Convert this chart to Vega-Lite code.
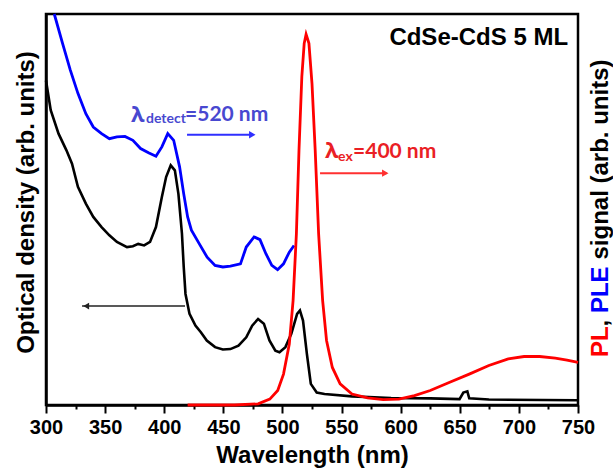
{
  "$schema": "https://vega.github.io/schema/vega-lite/v6.json",
  "width": 532,
  "height": 391,
  "autosize": {"type": "none"},
  "padding": {"left": 46, "top": 14, "right": 35, "bottom": 66},
  "background": "white",
  "config": {
    "view": {"stroke": "black", "strokeWidth": 2.5},
    "font": "Liberation Sans"
  },
  "datasets": {
    "abs": [
      {"nm": 300, "v": 83}, {"nm": 304, "v": 75.4}, {"nm": 310.6, "v": 69.4}, {"nm": 317.2, "v": 65.2},
      {"nm": 322, "v": 61.7}, {"nm": 327, "v": 55.8}, {"nm": 333.7, "v": 51.5}, {"nm": 340, "v": 48.1},
      {"nm": 347, "v": 45.5}, {"nm": 353.6, "v": 43.4}, {"nm": 360, "v": 41.7}, {"nm": 368.5, "v": 40.4},
      {"nm": 373.5, "v": 40.6}, {"nm": 378, "v": 41.2}, {"nm": 383, "v": 40.8}, {"nm": 388, "v": 41.7},
      {"nm": 393, "v": 45.5}, {"nm": 398, "v": 53.2}, {"nm": 401.6, "v": 58.3}, {"nm": 405.5, "v": 61.3},
      {"nm": 409, "v": 60}, {"nm": 412, "v": 54}, {"nm": 415, "v": 43.8}, {"nm": 416.5, "v": 35.3},
      {"nm": 418, "v": 28.4}, {"nm": 421.4, "v": 23.3}, {"nm": 426.4, "v": 20.3}, {"nm": 431, "v": 18.6},
      {"nm": 436, "v": 16.5}, {"nm": 443, "v": 14.8}, {"nm": 449.6, "v": 14.2}, {"nm": 456, "v": 14.3},
      {"nm": 462.8, "v": 15.2}, {"nm": 469.4, "v": 17.3}, {"nm": 474.4, "v": 20.3}, {"nm": 479.4, "v": 22},
      {"nm": 484.3, "v": 20.8}, {"nm": 489, "v": 16.5}, {"nm": 494, "v": 13.9}, {"nm": 497.5, "v": 13.5},
      {"nm": 502.5, "v": 14.8}, {"nm": 507.5, "v": 18.2}, {"nm": 512.4, "v": 23.3}, {"nm": 514.8, "v": 24.2},
      {"nm": 517.4, "v": 21.6}, {"nm": 520.7, "v": 13}, {"nm": 524, "v": 5.4}, {"nm": 529, "v": 3.2},
      {"nm": 535.6, "v": 2.8}, {"nm": 558.8, "v": 2.2}, {"nm": 591.9, "v": 1.8}, {"nm": 625, "v": 1.7},
      {"nm": 649.8, "v": 1.5}, {"nm": 653, "v": 3.2}, {"nm": 656.4, "v": 3.5}, {"nm": 658, "v": 1.7},
      {"nm": 674.6, "v": 1.4}, {"nm": 750, "v": 1.2}
    ],
    "ple": [
      {"nm": 307, "v": 100}, {"nm": 314, "v": 92.5}, {"nm": 320.5, "v": 85.7}, {"nm": 327, "v": 79.7},
      {"nm": 333.7, "v": 74.5}, {"nm": 340, "v": 71.1}, {"nm": 347, "v": 69.4}, {"nm": 353.6, "v": 68.1},
      {"nm": 360, "v": 68.6}, {"nm": 366.8, "v": 68.7}, {"nm": 373.5, "v": 67.7}, {"nm": 380, "v": 65.6},
      {"nm": 386.7, "v": 64.5}, {"nm": 393, "v": 63.6}, {"nm": 398, "v": 66}, {"nm": 403, "v": 69.4},
      {"nm": 408, "v": 67.7}, {"nm": 413, "v": 60.9}, {"nm": 416.5, "v": 54}, {"nm": 419.8, "v": 48.1},
      {"nm": 423, "v": 44.7}, {"nm": 429.7, "v": 41.2}, {"nm": 436.3, "v": 37.8}, {"nm": 443, "v": 35.7},
      {"nm": 449.6, "v": 35.3}, {"nm": 456, "v": 35.5}, {"nm": 464.5, "v": 36.1}, {"nm": 469.4, "v": 40.4},
      {"nm": 476, "v": 43}, {"nm": 481, "v": 42.3}, {"nm": 486, "v": 38.7}, {"nm": 491, "v": 35.7},
      {"nm": 495.9, "v": 34.6}, {"nm": 500.9, "v": 36.1}, {"nm": 505.8, "v": 39.1}, {"nm": 509.8, "v": 40.8}
    ],
    "pl": [
      {"nm": 419.8, "v": 0}, {"nm": 459.5, "v": 0}, {"nm": 479.4, "v": 0.3}, {"nm": 489.3, "v": 1.5},
      {"nm": 496, "v": 3.7}, {"nm": 500.9, "v": 7.9}, {"nm": 505.8, "v": 15.6}, {"nm": 509, "v": 26.7},
      {"nm": 511.8, "v": 43.8}, {"nm": 514, "v": 65.2}, {"nm": 516.4, "v": 84}, {"nm": 518.4, "v": 92.5},
      {"nm": 520, "v": 94.8}, {"nm": 522.4, "v": 92.5}, {"nm": 525, "v": 82.2}, {"nm": 527.7, "v": 65.2},
      {"nm": 530.6, "v": 43.8}, {"nm": 534, "v": 26.7}, {"nm": 537.3, "v": 16.5}, {"nm": 542.2, "v": 9.6},
      {"nm": 548.8, "v": 5.4}, {"nm": 558.8, "v": 2.8}, {"nm": 572, "v": 1.8}, {"nm": 585.2, "v": 1.4},
      {"nm": 598.5, "v": 1.5}, {"nm": 611.7, "v": 2.4}, {"nm": 625, "v": 3.7}, {"nm": 641.5, "v": 5.8},
      {"nm": 658, "v": 7.9}, {"nm": 674.6, "v": 10.1}, {"nm": 691, "v": 11.8}, {"nm": 704.4, "v": 12.4},
      {"nm": 717.6, "v": 12.4}, {"nm": 730.8, "v": 12}, {"nm": 740.7, "v": 11.5}, {"nm": 750, "v": 10.9}
    ]
  },
  "encoding": {
    "x": {
      "field": "nm", "type": "quantitative",
      "scale": {"domain": [300, 750], "nice": false, "zero": false},
      "axis": {
        "title": "Wavelength (nm)",
        "values": [300, 325, 350, 375, 400, 425, 450, 475, 500, 525, 550, 575, 600, 625, 650, 675, 700, 725, 750],
        "labelExpr": "datum.value % 50 === 0 ? datum.label : ''",
        "tickSize": {"condition": {"test": "datum.value % 50 === 0", "value": 8}, "value": 4},
        "tickWidth": 2, "tickColor": "black",
        "domainColor": "black", "domainWidth": 2.5,
        "grid": false,
        "labelFont": "Liberation Sans", "labelFontSize": 20, "labelFontWeight": "bold", "labelColor": "black",
        "labelPadding": 4, "labelFlush": false, "labelOverlap": false,
        "titleFont": "Liberation Sans", "titleFontSize": 24, "titleFontWeight": "bold", "titleColor": "black",
        "titlePadding": 6
      }
    },
    "y": {
      "field": "v", "type": "quantitative",
      "scale": {"domain": [0, 100], "nice": false, "zero": false},
      "axis": {
        "title": "Optical density (arb. units)",
        "ticks": false, "labels": false, "grid": false,
        "domainColor": "black", "domainWidth": 2.5,
        "titleFont": "Liberation Sans", "titleFontSize": 24, "titleFontWeight": "bold", "titleColor": "black",
        "titlePadding": 8, "titleY": 188
      }
    }
  },
  "layer": [
    {
      "data": {"name": "abs"},
      "mark": {"type": "line", "color": "black", "strokeWidth": 2.6}
    },
    {
      "data": {"name": "ple"},
      "mark": {"type": "line", "color": "#0000ff", "strokeWidth": 2.8}
    },
    {
      "data": {"name": "pl"},
      "mark": {"type": "line", "color": "#ff0000", "strokeWidth": 2.8}
    },
    {
      "data": {"values": [{"nm": 330.5, "nm2": 417.6, "v": 25.3}]},
      "mark": {"type": "rule", "color": "#222222", "strokeWidth": 1.5},
      "encoding": {"x2": {"field": "nm2"}}
    },
    {
      "data": {"values": [{"nm": 334, "v": 25.3}]},
      "mark": {"type": "point", "shape": "triangle-left", "filled": true, "color": "#222222", "size": 45, "opacity": 1}
    },
    {
      "data": {"values": [{"nm": 419.3, "nm2": 475, "v": 69.1}]},
      "mark": {"type": "rule", "color": "#2f2fff", "strokeWidth": 2},
      "encoding": {"x2": {"field": "nm2"}}
    },
    {
      "data": {"values": [{"nm": 474.5, "v": 69.1}]},
      "mark": {"type": "point", "shape": "triangle-right", "filled": true, "color": "#2f2fff", "size": 55, "opacity": 1}
    },
    {
      "data": {"values": [{"nm": 531.8, "nm2": 588, "v": 59.3}]},
      "mark": {"type": "rule", "color": "#ff3030", "strokeWidth": 2},
      "encoding": {"x2": {"field": "nm2"}}
    },
    {
      "data": {"values": [{"nm": 587, "v": 59.3}]},
      "mark": {"type": "point", "shape": "triangle-right", "filled": true, "color": "#ff3030", "size": 55, "opacity": 1}
    },
    {
      "data": {"values": [{"nm": 741.6, "v": 93.9, "label": "CdSe-CdS 5 ML"}]},
      "mark": {"type": "text", "align": "right", "baseline": "middle", "font": "Liberation Sans", "fontSize": 24, "fontWeight": "bold", "color": "black"},
      "encoding": {"text": {"field": "label"}}
    },
    {
      "data": {"values": [{"nm": 371.9, "v": 72.5, "label": "λ"}]},
      "mark": {"type": "text", "align": "left", "baseline": "alphabetic", "font": "Open Sans", "fontSize": 22, "fontWeight": "bold", "color": "#4848d0"},
      "encoding": {"text": {"field": "label"}}
    },
    {
      "data": {"values": [{"nm": 384.6, "v": 72.0, "label": "detect"}]},
      "mark": {"type": "text", "align": "left", "baseline": "alphabetic", "font": "Lato", "fontSize": 14, "fontWeight": "bold", "color": "#4848d0"},
      "encoding": {"text": {"field": "label"}}
    },
    {
      "data": {"values": [{"nm": 417.6, "v": 72.6, "label": "=520 nm"}]},
      "mark": {"type": "text", "align": "left", "baseline": "alphabetic", "font": "Lato", "fontSize": 21, "fontWeight": "bold", "color": "#4848d0"},
      "encoding": {"text": {"field": "label"}}
    },
    {
      "data": {"values": [{"nm": 536.0, "v": 63.2, "label": "λ"}]},
      "mark": {"type": "text", "align": "left", "baseline": "alphabetic", "font": "Open Sans", "fontSize": 22, "fontWeight": "bold", "color": "#ea1f25"},
      "encoding": {"text": {"field": "label"}}
    },
    {
      "data": {"values": [{"nm": 547.0, "v": 62.5, "label": "ex"}]},
      "mark": {"type": "text", "align": "left", "baseline": "alphabetic", "font": "Lato", "fontSize": 14, "fontWeight": "bold", "color": "#ea1f25"},
      "encoding": {"text": {"field": "label"}}
    },
    {
      "data": {"values": [{"nm": 559.7, "v": 63.2, "label": "=400 nm"}]},
      "mark": {"type": "text", "align": "left", "baseline": "alphabetic", "font": "Lato", "fontSize": 21, "fontWeight": "bold", "color": "#ea1f25"},
      "encoding": {"text": {"field": "label"}}
    },
    {
      "data": {"values": [{"nm": 750, "v": 12.3, "label": "PL"}]},
      "mark": {"type": "text", "align": "left", "baseline": "middle", "angle": 270, "dy": 23, "font": "Liberation Sans", "fontSize": 24, "fontWeight": "bold", "color": "#ff0000"},
      "encoding": {"text": {"field": "label"}}
    },
    {
      "data": {"values": [{"nm": 750, "v": 23.5, "label": "PLE"}]},
      "mark": {"type": "text", "align": "left", "baseline": "middle", "angle": 270, "dy": 23, "font": "Liberation Sans", "fontSize": 24, "fontWeight": "bold", "color": "#0000ff"},
      "encoding": {"text": {"field": "label"}}
    },
    {
      "data": {"values": [
        {"nm": 750, "v": 20.1, "label": ","},
        {"nm": 750, "v": 37.2, "label": "signal (arb. units)"}
      ]},
      "mark": {"type": "text", "align": "left", "baseline": "middle", "angle": 270, "dy": 23, "font": "Liberation Sans", "fontSize": 24, "fontWeight": "bold", "color": "black"},
      "encoding": {"text": {"field": "label"}}
    }
  ]
}
